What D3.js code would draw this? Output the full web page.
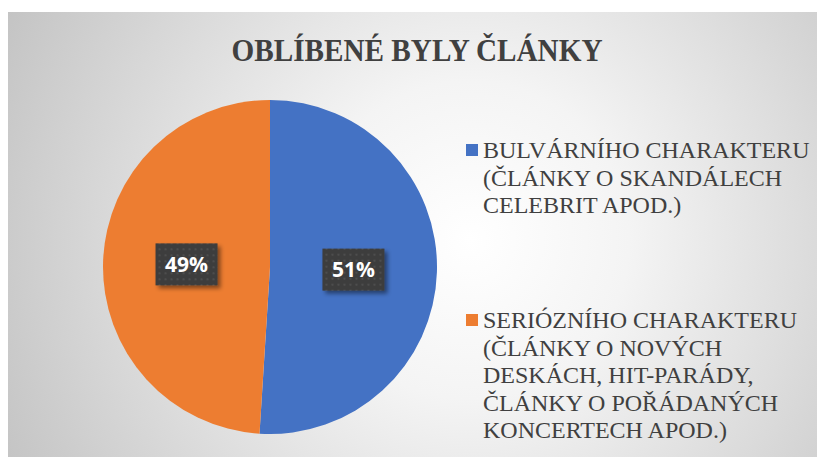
<!DOCTYPE html>
<html>
<head>
<meta charset="utf-8">
<script src="https://cdn.jsdelivr.net/npm/d3@7"></script>
<style>
  body { margin: 0; background: #fff; }
  svg { display: block; }
</style>
</head>
<body>
<div id="chart"></div>
<script>
const categories = ["Bulvárního charakteru", "Seriózního charakteru"];
const values = [51, 49];
const sliceColors = ["#4472C4", "#ED7D31"];
const legendLines = [
    ["BULVÁRNÍHO CHARAKTERU", "(ČLÁNKY O SKANDÁLECH", "CELEBRIT APOD.)"],
    ["SERIÓZNÍHO CHARAKTERU", "(ČLÁNKY O NOVÝCH", "DESKÁCH, HIT-PARÁDY,", "ČLÁNKY O POŘÁDANÝCH", "KONCERTECH APOD.)"]
];
const chartTitle = "OBLÍBENÉ BYLY ČLÁNKY";

const WIDTH = 818;
const HEIGHT = 457;

const svg = d3.select('#chart').append('svg')
    .attr('width', WIDTH)
    .attr('height', HEIGHT);

const defs = svg.append('defs');

const bg = defs.append('radialGradient')
    .attr('id', 'bg')
    .attr('gradientUnits', 'userSpaceOnUse')
    .attr('cx', 470).attr('cy', 240).attr('r', 530);
bg.append('stop').attr('offset', 0).attr('stop-color', '#ffffff');
bg.append('stop').attr('offset', 0.3).attr('stop-color', '#f4f4f4');
bg.append('stop').attr('offset', 1).attr('stop-color', '#c2c2c2');

const dots = defs.append('pattern')
    .attr('id', 'dots')
    .attr('patternUnits', 'userSpaceOnUse')
    .attr('width', 6).attr('height', 6);
dots.append('rect').attr('width', 6).attr('height', 6).attr('fill', '#3d3d3d');
dots.append('circle').attr('cx', 3).attr('cy', 3).attr('r', 1.1).attr('fill', '#525252');

const shadow = defs.append('filter')
    .attr('id', 'shadow')
    .attr('x', '-30%').attr('y', '-30%')
    .attr('width', '160%').attr('height', '160%');
shadow.append('feDropShadow')
    .attr('dx', 3).attr('dy', 3)
    .attr('stdDeviation', 2)
    .attr('flood-color', '#000')
    .attr('flood-opacity', 0.45);

// chart area
svg.append('rect')
    .attr('x', 8).attr('y', 12)
    .attr('width', 809).attr('height', HEIGHT - 12)
    .attr('fill', 'url(#bg)');

svg.append('text')
    .attr('x', 417)
    .attr('y', 61)
    .attr('text-anchor', 'middle')
    .attr('font-family', '"Liberation Serif", "Times New Roman", serif')
    .attr('font-weight', 'bold')
    .attr('font-size', 32)
    .attr('fill', '#404040')
    .attr('textLength', 371)
    .attr('lengthAdjust', 'spacingAndGlyphs')
    .text(chartTitle);

// pie
const PIE_CX = 270;
const PIE_CY = 267;
const RADIUS = 167;

const pie = d3.pie().sort(null).value(d => d);
const arcs = pie(values);

const arc = d3.arc().innerRadius(0).outerRadius(RADIUS);
const labelArc = d3.arc().innerRadius(RADIUS * 0.5).outerRadius(RADIUS * 0.5);

const pieGroup = svg.append('g')
    .attr('transform', `translate(${PIE_CX},${PIE_CY})`);

pieGroup.selectAll('path')
    .data(arcs)
    .join('path')
        .attr('d', arc)
        .attr('fill', (d, i) => sliceColors[i]);

const BOX_W = 62;
const BOX_H = 42;

const labels = pieGroup.selectAll('.label')
    .data(arcs)
    .join('g')
        .attr('class', 'label')
        .attr('transform', d => `translate(${labelArc.centroid(d)})`);

labels.append('rect')
    .attr('x', -BOX_W / 2)
    .attr('y', -BOX_H / 2)
    .attr('width', BOX_W)
    .attr('height', BOX_H)
    .attr('fill', 'url(#dots)')
    .attr('filter', 'url(#shadow)');

labels.append('text')
    .attr('text-anchor', 'middle')
    .attr('dy', '0.36em')
    .attr('font-family', '"Open Sans", "Liberation Sans", sans-serif')
    .attr('font-weight', 'bold')
    .attr('font-size', 21)
    .attr('fill', '#ffffff')
    .text(d => d.data + '%');

// legend
const LEGEND_X = 466;
const LEGEND_TOP = [158, 328];
const LINE_HEIGHT = 27.5;

const legend = svg.selectAll('.legend')
    .data(categories)
    .join('g')
        .attr('class', 'legend')
        .attr('transform', (d, i) => `translate(${LEGEND_X},${LEGEND_TOP[i]})`);

legend.append('rect')
    .attr('x', 0)
    .attr('y', -14)
    .attr('width', 12)
    .attr('height', 12)
    .attr('fill', (d, i) => sliceColors[i]);

legend.append('text')
    .attr('font-family', '"Liberation Serif", "Times New Roman", serif')
    .attr('font-size', 24)
    .attr('fill', '#404040')
    .selectAll('tspan')
    .data((d, i) => legendLines[i])
    .join('tspan')
        .attr('x', 17)
        .attr('y', (d, j) => j * LINE_HEIGHT)
        .text(d => d);
</script>
</body>
</html>
